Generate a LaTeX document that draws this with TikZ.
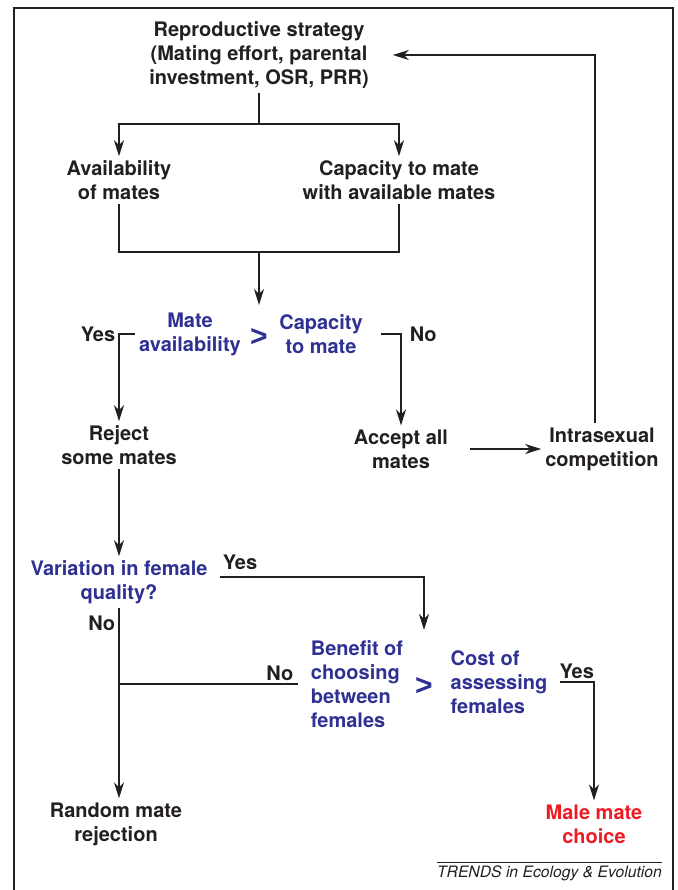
\documentclass[tikz,border=0pt]{standalone}
\usepackage{fontspec}
\setmainfont{TeX Gyre Heros}
\newfontfamily\signfont{Liberation Sans}
\usepackage{tikz}
\usetikzlibrary{positioning}
\usetikzlibrary{arrows.meta}
\definecolor{inkblack}{RGB}{35,31,32}
\definecolor{askblue}{RGB}{46,49,146}
\definecolor{choicered}{RGB}{237,28,36}

\begin{document}
\begin{tikzpicture}[
        x=1pt, y=-1pt, on grid,
        stage/.style={align=center, font=\fontsize{20}{24}\selectfont\bfseries, text=inkblack, inner sep=4pt},
        query/.style={stage, text=askblue},
        gtsign/.style={font=\signfont\fontsize{30}{30}\selectfont\bfseries, text=askblue, inner sep=0pt},
        answer/.style={font=\fontsize{20}{24}\selectfont\bfseries, text=inkblack, inner sep=3pt},
        link/.style={draw=inkblack, line width=1.6pt},
        flow/.style={link, -{Stealth[length=16pt, width=10pt, inset=5pt]}},
        frame/.style={draw=inkblack, line width=1.5pt}
    ]
        \useasboundingbox (0,0) rectangle (677,890);
        \draw[frame] (14,890) |- (673,8) -- (673,890);

        % Nodes
        \node[stage] (rs) at (259,55) {Reproductive strategy\\(Mating effort, parental\\investment, OSR, PRR)};
        \node[stage, below left=125pt and 140pt of rs] (avail) {Availability\\of mates};
        \node[stage, right=280pt of avail] (cap) {Capacity to mate\\with available mates};
        \node[gtsign, below=282pt of rs] (gt1) {>};
        \node[query, left=69pt of gt1, yshift=3pt] (mavail) {Mate\\availability};
        \node[query, right=62pt of gt1, yshift=3pt] (capm) {Capacity\\to mate};
        \node[stage, below=265pt of avail] (reject) {Reject\\some mates};
        \node[stage, below=269pt of cap, xshift=2pt] (accept) {Accept all\\mates};
        \node[stage, right=201pt of accept] (intra) {Intrasexual\\competition};
        \node[query, below=137pt of reject] (var) {Variation in female\\quality?};
        \node[gtsign, below right=104pt and 305pt of var] (gt2) {>};
        \node[query, align=left, left=67pt of gt2, yshift=2pt] (benefit) {Benefit of\\choosing\\between\\females};
        \node[query, align=left, right=75pt of gt2, yshift=4pt] (cost) {Cost of\\assessing\\females};
        \node[stage, below left=242pt and 3pt of var] (random) {Random mate\\rejection};
        \node[stage, right=478pt of random, text=choicered] (male) {Male mate\\choice};
        \node[font=\fontsize{15.7}{18}\selectfont\itshape, text=inkblack, inner xsep=0pt, inner ysep=4pt, anchor=north east] (src) at (662,862) {TRENDS in Ecology \& Evolution};

        \coordinate[below=69pt of rs] (split);
        \coordinate[below=197pt of rs] (merge);
        \coordinate[above=32pt of gt1] (gt1top);
        \coordinate[above=56pt of gt2] (gt2top);

        % Edges
        \draw[link] (rs) -- (split);
        \draw[flow] (split) -| (avail);
        \draw[flow] (split) -| (cap);
        \draw[link] (avail) |- (merge) -| (cap);
        \draw[flow] (merge) -- (gt1top);
        \draw[flow] (mavail) -| node[answer, pos=0.5, left] {Yes} (reject);
        \draw[flow] ([xshift=14pt]capm.east) -| node[answer, pos=0.5, right, xshift=5pt] {No} (accept);
        \draw[flow] ([xshift=18pt]accept.east) -- (intra);
        \draw[flow] ([xshift=-7pt]intra.north) |- ([xshift=20pt]rs.east);
        \draw[flow] (reject) -- (var);
        \draw[flow] ([xshift=8pt, yshift=5pt]var.east) -| node[answer, pos=0.05, above, yshift=4pt] {Yes} (gt2top);
        \draw[flow] (var.south) -- node[answer, pos=0.08, left] {No} (var.south |- random.north);
        \draw[link] ([xshift=-9pt]benefit.west) -- node[answer, pos=0.1, above] {No} (benefit.west -| var.south);
        \draw[flow] ([xshift=8pt]cost.east) -| node[answer, pos=0.25, above] {Yes} (male);
        \draw[line width=0.8pt, draw=inkblack] (src.north west) -- (src.north east);
    \end{tikzpicture}
\end{document}
